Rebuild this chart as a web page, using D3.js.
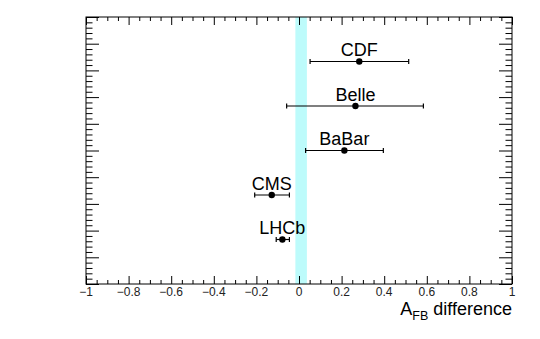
<!DOCTYPE html>
<html>
<head>
<meta charset="utf-8">
<script src="https://cdn.jsdelivr.net/npm/d3@7"></script>
<style>
  body { margin: 0; background: #fff; }
  text { font-family: "Liberation Sans", Arial, sans-serif; }
</style>
</head>
<body>
<div id="chart"></div>
<script>
// Measurements (A_FB difference)
var experiments = ["CDF", "Belle", "BaBar", "CMS", "LHCb"];
var rows = [5, 4, 3, 2, 1];
var centralValues = [0.283, 0.265, 0.213, -0.128, -0.078];
var lowEdges = [0.052, -0.058, 0.031, -0.208, -0.107];
var highEdges = [0.515, 0.584, 0.396, -0.045, -0.045];

// SM prediction band
var bandLow = -0.017;
var bandHigh = 0.037;

var xMajor = [-1, -0.8, -0.6, -0.4, -0.2, 0, 0.2, 0.4, 0.6, 0.8, 1];
var xLabels = ["\u22121", "\u22120.8", "\u22120.6", "\u22120.4", "\u22120.2", "0", "0.2", "0.4", "0.6", "0.8", "1"];

var width = 540, height = 339;
var margin = {left: 86, right: 28, top: 17, bottom: 55};

var svg = d3.select("#chart")
  .append("svg")
  .attr("width", width)
  .attr("height", height);

var x = d3.scaleLinear().domain([-1, 1]).range([margin.left, width - margin.right]);
var y = d3.scaleLinear().domain([0, 6]).range([height - margin.bottom, margin.top]);

// band
svg.append("rect")
  .attr("x", x(bandLow))
  .attr("y", y(6))
  .attr("width", x(bandHigh) - x(bandLow))
  .attr("height", y(0) - y(6))
  .attr("fill", "#bdfbfb");

// tick positions
var xMinor = d3.range(-1, 1.0001, 0.05).filter(function(v) {
  return xMajor.every(function(m) { return Math.abs(m - v) > 1e-6; });
});
var yMajor = d3.range(0, 6.0001, 0.6);
var yMinor = d3.range(0, 6.0001, 0.12).filter(function(v) {
  return yMajor.every(function(m) { return Math.abs(m - v) > 1e-6; });
});

function drawAxis(axis, pos, size, values, transform) {
  var g = svg.append("g")
    .attr("transform", transform)
    .call(axis.tickValues(values).tickSize(size).tickFormat(""));
  g.select(".domain").remove();
  g.selectAll("line").attr("stroke", "#000");
  return g;
}

var bottom = "translate(0," + y(0) + ")";
var top_ = "translate(0," + y(6) + ")";
var left = "translate(" + x(-1) + ",0)";
var right = "translate(" + x(1) + ",0)";

drawAxis(d3.axisBottom(x), 0, -8, xMajor, bottom);
drawAxis(d3.axisBottom(x), 0, -4, xMinor, bottom);
drawAxis(d3.axisTop(x), 0, -8, xMajor, top_);
drawAxis(d3.axisTop(x), 0, -4, xMinor, top_);
drawAxis(d3.axisLeft(y), 0, -13, yMajor, left);
drawAxis(d3.axisLeft(y), 0, -6.5, yMinor, left);
drawAxis(d3.axisRight(y), 0, -13, yMajor, right);
drawAxis(d3.axisRight(y), 0, -6.5, yMinor, right);

// x tick labels
svg.append("g").selectAll("text")
  .data(xMajor)
  .enter()
  .append("text")
  .attr("x", function(d) { return x(d); })
  .attr("y", y(0) + 12)
  .attr("text-anchor", "middle")
  .attr("font-size", 12)
  .attr("fill", "#222")
  .text(function(d, i) { return xLabels[i]; });

// frame
svg.append("rect")
  .attr("x", x(-1))
  .attr("y", y(6))
  .attr("width", x(1) - x(-1))
  .attr("height", y(0) - y(6))
  .attr("fill", "none")
  .attr("stroke", "#000")
  .attr("stroke-width", 1);

// error bars
var pts = svg.append("g").selectAll("g")
  .data(experiments)
  .enter()
  .append("g");

pts.append("line")
  .attr("x1", function(d, i) { return x(lowEdges[i]); })
  .attr("x2", function(d, i) { return x(highEdges[i]); })
  .attr("y1", function(d, i) { return y(rows[i]); })
  .attr("y2", function(d, i) { return y(rows[i]); })
  .attr("stroke", "#000")
  .attr("stroke-width", 1.2);

[lowEdges, highEdges].forEach(function(edges) {
  pts.append("line")
    .attr("x1", function(d, i) { return x(edges[i]); })
    .attr("x2", function(d, i) { return x(edges[i]); })
    .attr("y1", function(d, i) { return y(rows[i]) - 2.5; })
    .attr("y2", function(d, i) { return y(rows[i]) + 2.5; })
    .attr("stroke", "#000")
    .attr("stroke-width", 1.2);
});

pts.append("circle")
  .attr("cx", function(d, i) { return x(centralValues[i]); })
  .attr("cy", function(d, i) { return y(rows[i]); })
  .attr("r", 3.2)
  .attr("fill", "#000");

pts.append("text")
  .attr("x", function(d, i) { return x(centralValues[i]); })
  .attr("y", function(d, i) { return y(rows[i]) - 5.5; })
  .attr("text-anchor", "middle")
  .attr("font-size", 18)
  .attr("fill", "#000")
  .text(function(d) { return d; });

// axis title
var title = svg.append("text")
  .attr("x", x(1))
  .attr("y", 315)
  .attr("text-anchor", "end")
  .attr("font-size", 18)
  .attr("fill", "#000");
title.append("tspan").text("A");
title.append("tspan").attr("font-size", 12.5).attr("dy", 5).text("FB");
title.append("tspan").attr("dy", -5).text(" difference");
</script>
</body>
</html>
